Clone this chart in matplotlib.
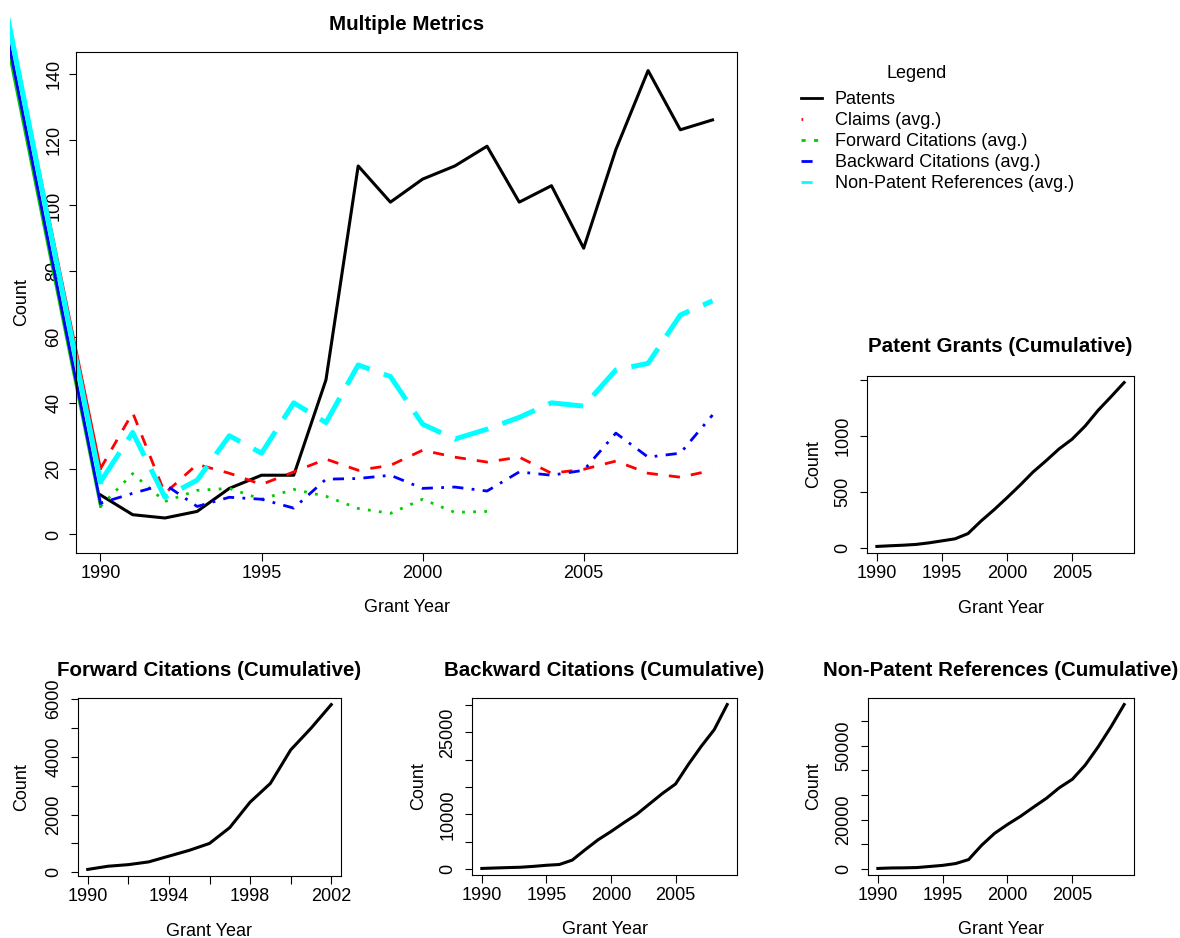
import matplotlib
matplotlib.use("Agg")
import matplotlib.pyplot as plt
from matplotlib.lines import Line2D
from matplotlib.transforms import Bbox, TransformedBbox

plt.rcParams['font.family'] = ['Liberation Sans', 'DejaVu Sans']

# Grant years
years = list(range(1990, 2010))
fwd_years = list(range(1990, 2003))

# Yearly values (top panel)
patents = [12, 6, 5, 7, 14, 18, 18, 47, 112, 101, 108, 112, 118, 101, 106, 87, 117, 141, 123, 126]
claims_avg = [20, 37, 12.5, 21.3, 18.6, 15.2, 19, 22.9, 19.5, 21, 25.6, 23.5, 22, 23.5, 18.6, 19.8, 22.3, 18.6, 17.4, 19.5]
fwd_avg = [8.5, 18.5, 10, 13.4, 14, 10.7, 13.7, 11.6, 7.9, 6.4, 10.7, 6.7, 7]
bwd_avg = [9.5, 12.5, 15.2, 8.5, 11.3, 10.7, 8, 16.8, 17, 18, 14, 14.4, 13.2, 19, 18, 19.5, 30.8, 23.5, 24.7, 36.3]
npr_avg = [16, 31, 11.3, 16.5, 30, 24.7, 40, 34, 51.5, 48, 33.5, 29, 32, 35.6, 40, 39, 50, 52, 66.7, 71]

# stray first point of the average series (runs off the top-left of the panel)
lead_year = 1986
claims_lead = 210
fwd_lead = 203
bwd_lead = 206
npr_lead = 212

# Cumulative values
pat_cum = [12, 18, 23, 30, 44, 62, 80, 127, 239, 340, 448, 560, 678, 779, 885, 972, 1089, 1230, 1353, 1479]
fwd_cum = [100, 210, 265, 360, 560, 760, 1000, 1550, 2430, 3080, 4240, 4990, 5810]
bwd_cum = [110, 190, 265, 330, 490, 690, 830, 1630, 3530, 5350, 6860, 8480, 10030, 11950, 13860,
           15560, 19160, 22480, 25520, 30100]
npr_cum = [190, 380, 430, 550, 980, 1440, 2170, 3780, 9550, 14400, 18000, 21300, 25000, 28600, 32900,
           36300, 42100, 49500, 57700, 66600]

FS = 13
TFS = 14.8
W, H = 1180, 938


def rlim(lo, hi):
    d = 0.04 * (hi - lo)
    return lo - d, hi + d


def box(l, t, r, b):
    return [l / W, 1 - b / H, (r - l) / W, (b - t) / H]


def style(ax, ypad):
    for s in ax.spines.values():
        s.set_linewidth(0.8)
    ax.tick_params(direction='out', length=5.4, width=0.8, labelsize=FS)
    ax.tick_params(axis='x', pad=3)
    ax.tick_params(axis='y', pad=ypad, labelrotation=90)
    for lab in ax.get_yticklabels():
        lab.set_va('center')


def labels(ax, xl, yl):
    ax.set_xlabel('Grant Year', fontsize=FS)
    ax.set_ylabel('Count', fontsize=FS)
    ax.xaxis.set_label_coords(0.5, xl)
    ax.yaxis.set_label_coords(yl, 0.5)
    ax.xaxis.label.set_va('center')
    ax.yaxis.label.set_va('center')


fig = plt.figure(figsize=(W / 100, H / 100), dpi=100)
# drawing outside the panel is cut at the figure region edge
region = TransformedBbox(Bbox([[10 / W, 0], [1, 1]]), fig.transFigure)

# ---- main panel
ax = fig.add_axes(box(76, 52, 737, 553))
ax.plot(years, patents, color='black', lw=2.2)
lead_lines = []
lead_lines += ax.plot([lead_year, years[0]], [claims_lead, claims_avg[0]], color='red', lw=2)
ax.plot(years, claims_avg, color='red', lw=2, dashes=(4, 4))
lead_lines += ax.plot([lead_year, fwd_years[0]], [fwd_lead, fwd_avg[0]], color='#00cd00', lw=2)
ax.plot(fwd_years, fwd_avg, color='#00cd00', lw=2, dashes=(1, 3))
lead_lines += ax.plot([lead_year, years[0]], [bwd_lead, bwd_avg[0]], color='blue', lw=2)
ax.plot(years, bwd_avg, color='blue', lw=2, dashes=(1, 3, 4, 3))
lead_lines += ax.plot([lead_year, years[0]], [npr_lead, npr_avg[0]], color='cyan', lw=3.6)
ax.plot(years, npr_avg, color='cyan', lw=3.6, dashes=(7, 3))
for ln in lead_lines:
    ln.set_clip_box(region)
ax.set_xlim(*rlim(years[0], years[-1]))
ax.set_ylim(*rlim(0, max(patents)))
ax.set_xticks([1990, 1995, 2000, 2005])
ax.set_yticks(range(0, 141, 20))
style(ax, 4.5)
labels(ax, -0.108, -0.082)
ax.set_title('Multiple Metrics', fontsize=TFS, fontweight='bold', pad=16)

# legend outside the panel
handles = [
    Line2D([], [], color='black', lw=2),
    Line2D([], [], color='red', lw=2, dashes=(0.6, 12)),
    Line2D([], [], color='#00cd00', lw=2, dashes=(1.5, 3)),
    Line2D([], [], color='blue', lw=2, dashes=(4, 12)),
    Line2D([], [], color='cyan', lw=2, dashes=(4, 12)),
]
names = ['Patents', 'Claims (avg.)', 'Forward Citations (avg.)',
         'Backward Citations (avg.)', 'Non-Patent References (avg.)']
fig.legend(handles, names, loc='upper left', bbox_to_anchor=(801 / W, 1 - 91 / H),
           frameon=False, fontsize=FS, handlelength=1.15, handletextpad=0.72,
           labelspacing=0.22, borderpad=0, borderaxespad=0)
fig.text(917 / W, 1 - 74 / H, 'Legend', fontsize=FS, ha='center', va='center')

# ---- cumulative panels
panels = [
    (box(867, 376, 1134, 553), years, pat_cum, 'Patent Grants (Cumulative)',
     [1990, 1995, 2000, 2005], None, [0, 500, 1000, 1500], [0, 500, 1000], 17.4, -0.316, -0.199),
    (box(78, 698, 341, 876), fwd_years, fwd_cum, 'Forward Citations (Cumulative)',
     list(range(1990, 2003, 2)), [1990, 1994, 1998, 2002],
     list(range(0, 6001, 1000)), [0, 2000, 4000, 6000], 15.8, -0.309, -0.213),
    (box(472, 698, 737, 875), years, bwd_cum, 'Backward Citations (Cumulative)',
     [1990, 1995, 2000, 2005], None, list(range(0, 30001, 5000)), [0, 10000, 25000], 15.5, -0.31, -0.2),
    (box(868, 698, 1134, 875), years, npr_cum, 'Non-Patent References (Cumulative)',
     [1990, 1995, 2000, 2005], None, list(range(0, 60001, 10000)), [0, 20000, 50000], 15.5, -0.31, -0.203),
]

for rect, x, y, title, xt, xshow, yt, yshow, tpad, xl, yl in panels:
    a = fig.add_axes(rect)
    a.plot(x, y, color='black', lw=2.2)
    a.set_xlim(*rlim(min(x), max(x)))
    a.set_ylim(*rlim(min(y), max(y)))
    a.set_xticks(xt)
    if xshow is not None:
        a.set_xticklabels([str(v) if v in xshow else '' for v in xt])
    a.set_yticks(yt)
    a.set_yticklabels([str(v) if v in yshow else '' for v in yt])
    style(a, 6)
    labels(a, xl, yl)
    a.set_title(title, fontsize=TFS, fontweight='bold', pad=tpad)

fig.savefig('out.png', dpi=100)
